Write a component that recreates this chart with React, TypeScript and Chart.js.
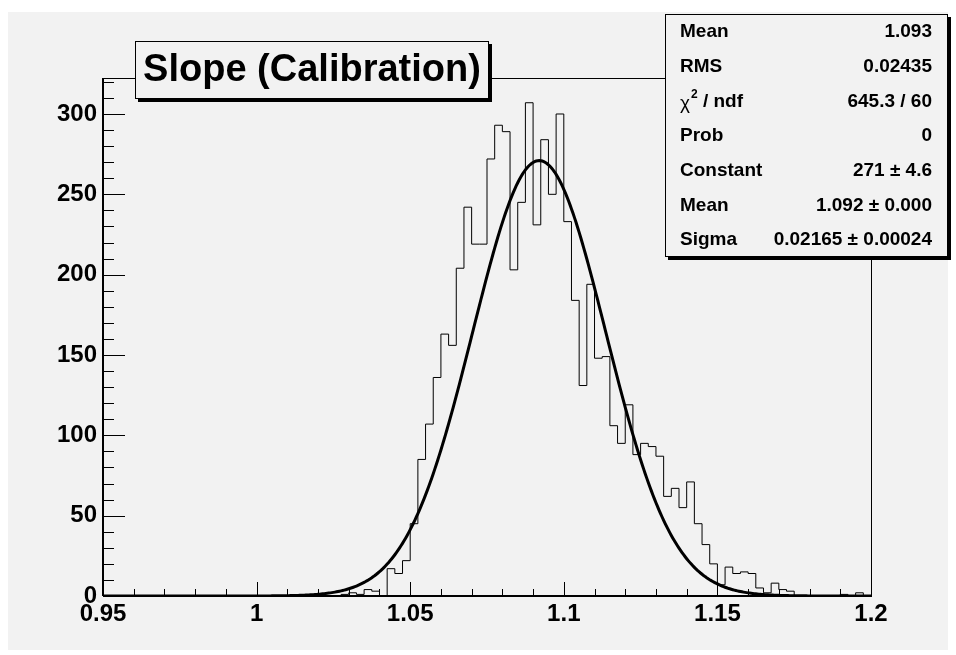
import React, { useEffect, useRef } from 'react';
import { Chart, registerables } from 'chart.js';

Chart.register(...registerables);

// Histogram: 100 bins of width 0.0025 from 0.95 to 1.2
const binLow = 0.95;
const binWidth = 0.0025;
const counts = [
  0, 0, 0, 0, 0, 0, 0, 0, 0, 0,
  0, 0, 0, 0, 0, 0, 0, 0, 0, 0,
  0, 0, 0, 0, 0, 0, 0, 0, 0, 0,
  0, 1, 2, 1, 4, 3, 0, 17, 14, 22,
  45, 85, 107, 136, 163, 156, 204, 242, 219, 219,
  272, 293, 289, 203, 245, 307, 231, 284, 250, 300,
  233, 184, 131, 194, 148, 149, 106, 95, 119, 88,
  95, 93, 87, 62, 67, 55, 71, 45, 32, 20,
  7, 18, 14, 15, 14, 5, 2, 8, 4, 3,
  0, 0, 0, 0, 0, 0, 1, 0, 2, 0,
];

const xMin = 0.95;
const xMax = 1.2;
const yMin = 0;
const yMax = 322.4;
const xTickValues = [0.95, 1, 1.05, 1.1, 1.15, 1.2];
const yTickValues = [0, 50, 100, 150, 200, 250, 300];

// Gaussian fit parameters (from the stats box)
const fitConstant = 271;
const fitMean = 1.092;
const fitSigma = 0.02165;

const titleText = 'Slope (Calibration)';
const statLabels = ['Mean', 'RMS', 'CHI2', 'Prob', 'Constant', 'Mean', 'Sigma'];
const statValues = ['1.093', '0.02435', '645.3 / 60', '0', '271 ± 4.6', '1.092 ± 0.000', '0.02165 ± 0.00024'];

const FONT = '"Liberation Sans", Arial, Helvetica, sans-serif';

const histPoints = counts
  .map((c, i) => ({ x: binLow + i * binWidth, y: c }))
  .concat([{ x: binLow + counts.length * binWidth, y: counts[counts.length - 1] }]);

const fitPoints: { x: number; y: number }[] = [];
for (let i = 0; i <= 500; i++) {
  const x = xMin + (i * (xMax - xMin)) / 500;
  const z = (x - fitMean) / fitSigma;
  fitPoints.push({ x, y: fitConstant * Math.exp(-0.5 * z * z) });
}

function drawBox(ctx: CanvasRenderingContext2D, x: number, y: number, w: number, h: number) {
  ctx.fillStyle = '#000';
  ctx.fillRect(x + 3, y + 3, w, h);
  ctx.fillStyle = '#f2f2f2';
  ctx.fillRect(x, y, w, h);
  ctx.strokeStyle = '#000';
  ctx.lineWidth = 1;
  ctx.strokeRect(x + 0.5, y + 0.5, w - 1, h - 1);
}

const rootPlugin = {
  id: 'rootStyle',
  beforeDraw(chart: any) {
    const ctx = chart.ctx as CanvasRenderingContext2D;
    ctx.save();
    ctx.fillStyle = '#ffffff';
    ctx.fillRect(0, 0, chart.width, chart.height);
    ctx.fillStyle = '#f2f2f2';
    ctx.fillRect(8, 12, 940, 638);
    ctx.restore();
  },
  beforeDatasetsDraw(chart: any) {
    const ctx = chart.ctx as CanvasRenderingContext2D;
    const a = chart.chartArea;
    const xs = chart.scales.x;
    const ys = chart.scales.y;
    const L = Math.round(a.left), R = Math.round(a.right), T = Math.round(a.top), B = Math.round(a.bottom);
    ctx.save();
    ctx.strokeStyle = '#000';
    ctx.lineWidth = 1;
    ctx.strokeRect(L + 0.5, T + 0.5, R - L, B - T);
    ctx.lineWidth = 2;
    ctx.beginPath();
    ctx.moveTo(L, B);
    ctx.lineTo(R, B);
    ctx.moveTo(L, B);
    ctx.lineTo(L, T);
    ctx.stroke();
    ctx.lineWidth = 1;
    ctx.beginPath();
    for (let k = 0; k <= 25; k++) {
      const v = xMin + k * 0.01;
      const px = Math.round(xs.getPixelForValue(v)) + 0.5;
      const len = k % 5 === 0 ? 14 : 7;
      ctx.moveTo(px, B);
      ctx.lineTo(px, B - len);
    }
    for (let v = 0; v <= yMax; v += 10) {
      const py = Math.round(ys.getPixelForValue(v)) + 0.5;
      const len = v % 50 === 0 ? 22 : 11;
      ctx.moveTo(L, py);
      ctx.lineTo(L + len, py);
    }
    ctx.stroke();
    ctx.restore();
  },
  afterDraw(chart: any) {
    const ctx = chart.ctx as CanvasRenderingContext2D;
    ctx.save();
    // Title box
    drawBox(ctx, 135, 41, 354, 58);
    ctx.fillStyle = '#000';
    ctx.font = `bold 38px ${FONT}`;
    ctx.textAlign = 'center';
    ctx.textBaseline = 'middle';
    ctx.fillText(titleText, 312, 71);

    // Stats box
    const bx = 665, by = 14, bw = 283, bh = 243;
    drawBox(ctx, bx, by, bw, bh);
    const rowH = bh / statLabels.length;
    for (let i = 0; i < statLabels.length; i++) {
      const cy = by + rowH * (i + 0.5) + 0.5;
      ctx.fillStyle = '#000';
      ctx.textBaseline = 'middle';
      ctx.textAlign = 'left';
      if (statLabels[i] === 'CHI2') {
        ctx.font = `19px ${FONT}`;
        ctx.fillText('χ', 680, cy + 2);
        const w1 = ctx.measureText('χ').width;
        ctx.font = `bold 12px ${FONT}`;
        ctx.fillText('2', 680 + w1 + 1, cy - 7);
        const w2 = ctx.measureText('2').width;
        ctx.font = `bold 19px ${FONT}`;
        ctx.fillText(' / ndf', 680 + w1 + w2 + 1, cy);
      } else {
        ctx.font = `bold 19px ${FONT}`;
        ctx.fillText(statLabels[i], 680, cy);
      }
      ctx.font = `bold 19px ${FONT}`;
      ctx.textAlign = 'right';
      ctx.fillText(statValues[i], 932, cy);
    }
    ctx.restore();
  },
};

export default function App() {
  const canvasRef = useRef<HTMLCanvasElement | null>(null);

  useEffect(() => {
    const canvas = canvasRef.current;
    if (!canvas) return;
    const tickFont = { family: FONT, size: 24, weight: 'bold' as const };
    const chart = new Chart(canvas, {
      type: 'line',
      data: {
        datasets: [
          {
            label: 'fit',
            data: fitPoints,
            borderColor: '#000',
            borderWidth: 3,
            pointRadius: 0,
            tension: 0,
            fill: false,
            order: 0,
          },
          {
            label: 'hist',
            data: histPoints,
            borderColor: '#000',
            borderWidth: 1,
            pointRadius: 0,
            stepped: true,
            fill: false,
            order: 1,
          },
        ],
      },
      options: {
        animation: false,
        responsive: false,
        devicePixelRatio: 1,
        parsing: true,
        layout: { padding: { left: 0, right: 85, top: 78, bottom: 0 } },
        plugins: {
          legend: { display: false },
          title: { display: false },
          tooltip: { enabled: false },
        },
        scales: {
          x: {
            type: 'linear',
            min: xMin,
            max: xMax,
            grid: { display: false, drawTicks: false },
            border: { display: false },
            afterBuildTicks: (scale: any) => {
              scale.ticks = xTickValues.map((v) => ({ value: v }));
            },
            afterFit: (scale: any) => {
              scale.height = 59;
            },
            ticks: {
              autoSkip: false,
              maxRotation: 0,
              padding: 4,
              color: '#000',
              font: tickFont,
              callback: (v: any) => String(v),
            },
          },
          y: {
            type: 'linear',
            min: yMin,
            max: yMax,
            grid: { display: false, drawTicks: false },
            border: { display: false },
            afterBuildTicks: (scale: any) => {
              scale.ticks = yTickValues.map((v) => ({ value: v }));
            },
            afterFit: (scale: any) => {
              scale.width = 103;
            },
            ticks: {
              autoSkip: false,
              padding: 6,
              color: '#000',
              font: tickFont,
              callback: (v: any) => String(v),
            },
          },
        },
      },
      plugins: [rootPlugin],
    });
    return () => chart.destroy();
  }, []);

  return (
    <div style={{ position: 'fixed', left: 0, top: 0, width: 956, height: 655 }}>
      <canvas ref={canvasRef} width={956} height={655} style={{ display: 'block' }} />
    </div>
  );
}
